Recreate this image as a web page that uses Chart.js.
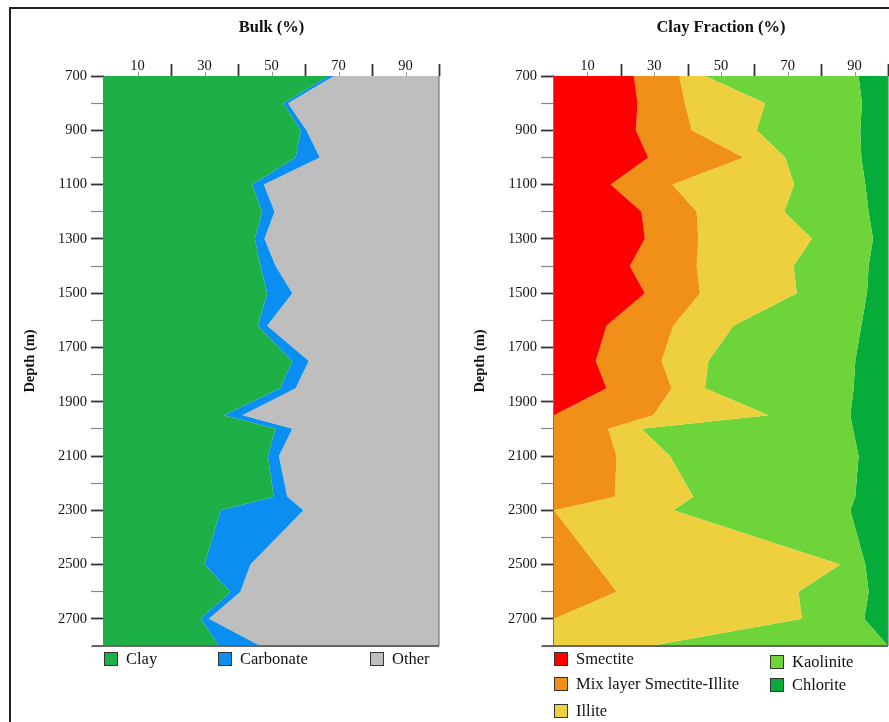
<!DOCTYPE html>
<html>
<head>
<meta charset="utf-8">
<script src="https://cdn.jsdelivr.net/npm/chart.js@4/dist/chart.umd.min.js"></script>
<style>
  body { margin: 0; background: #fff; font-family: "Liberation Serif", "Times New Roman", serif; }
  #wrap { position: relative; width: 889px; height: 722px; overflow: hidden; background: #fff; }
  #frame { position: absolute; left: 9px; top: 7px; width: 900px; height: 740px; border-left: 2px solid #222; border-top: 2px solid #222; }
  canvas { position: absolute; top: 0; }
  #bulk { left: 0; }
  #clayfrac { left: 450px; }
  .item { position: absolute; white-space: nowrap; font-size: 16.5px; line-height: 16px; color: #111; }
  .box { position: absolute; left: 0; top: 0; width: 12px; height: 12px; border: 1.5px solid #333; }
  .item span.t { position: absolute; left: 22px; top: -1px; }
</style>
</head>
<body>
<div id="wrap">
  <div id="frame"></div>
  <canvas id="bulk" width="445" height="660"></canvas>
  <canvas id="clayfrac" width="439" height="660"></canvas>
  <div id="legends"></div>
</div>
<script>
'use strict';

// sample depths (m), shared by both panels
const depths = [700, 800, 900, 1000, 1100, 1200, 1300, 1400, 1500, 1620, 1750,
  1850, 1950, 2000, 2100, 2250, 2300, 2500, 2600, 2700, 2800];

// Bulk (%)
const bulkNames = ['Clay', 'Carbonate', 'Other'];
const clay = [67, 53.5, 58.7, 57.2, 44.2, 47.2, 45, 46.7, 48.7, 45.9, 56.2,
  52.5, 35.8, 51.2, 48.9, 50.7, 34.8, 30, 37.8, 28.8, 34.3];
const carbonate = [1.6, 1.4, 1.7, 7.2, 3.5, 3.7, 2.9, 4.5, 7.5, 2.8, 4.9,
  4.7, 5.5, 5, 3.3, 4, 24.7, 13.7, 2.9, 2.5, 12.4];
const other = [31.4, 45.1, 39.6, 35.6, 52.3, 49.1, 52.1, 48.8, 43.8, 51.3, 38.9,
  42.8, 58.7, 43.8, 47.8, 45.3, 40.5, 56.3, 59.3, 68.7, 53.3];

// Clay Fraction (%)
const clayNames = ['Smectite', 'Mix layer Smectite-Illite', 'Illite', 'Kaolinite', 'Chlorite'];
const smectite = [23.9, 25, 24.5, 28.2, 17, 26.2, 27.2, 22.7, 27.2, 15.7, 12.5,
  15.7, 0, 0, 0, 0, 0, 0, 0, 0, 0];
const mixLayer = [13.6, 14.2, 16.7, 28.5, 18.4, 16.5, 16, 20, 16.5, 20, 19.7,
  19.5, 29.7, 16.2, 18.7, 18.2, 0, 12.5, 18.7, 0, 0];
const illite = [7.7, 24, 19.5, 12.5, 36.5, 26.2, 34, 29, 29, 18, 14,
  10, 34.5, 10, 16, 23.5, 35.7, 73.2, 54.5, 74.2, 28.7];
const kaolinite = [46, 29, 31, 22.8, 21.3, 25.3, 18.3, 22.5, 21, 38.3, 44,
  44.5, 24.5, 63.3, 56.5, 48.5, 53, 7.5, 21, 18.7, 71.3];
const chlorite = [8.8, 7.8, 8.3, 8, 6.8, 5.8, 4.5, 5.8, 6.3, 8, 9.8,
  10.3, 11.3, 10.5, 8.8, 9.8, 11.3, 6.8, 5.8, 7.1, 0];

const depthTicks = [700, 900, 1100, 1300, 1500, 1700, 1900, 2100, 2300, 2500, 2700];
const pctTicks = [10, 30, 50, 70, 90];

const bulkColors = ['#1db046', '#0b8ef2', '#bebebe'];
const clayColors = ['#fe0000', '#f09018', '#eecf3e', '#6dd43a', '#05ac3a'];

Chart.defaults.font.family = '"Liberation Serif", "Times New Roman", serif';
Chart.defaults.color = '#111';

// plot frame + top ticks of the percent axis
const framePlugin = {
  id: 'frame',
  afterDraw(chart) {
    const ctx = chart.ctx;
    const a = chart.chartArea;
    const xs = chart.scales.x;
    ctx.save();
    ctx.lineWidth = 1.2;
    ctx.strokeStyle = '#777';
    ctx.beginPath();
    ctx.moveTo(a.right, a.top);
    ctx.lineTo(a.right, a.bottom);
    ctx.stroke();
    ctx.lineWidth = 2;
    ctx.strokeStyle = '#666';
    ctx.beginPath();
    ctx.moveTo(a.left - 12, a.bottom);
    ctx.lineTo(a.right, a.bottom);
    ctx.stroke();
    for (let v = 10; v <= 100; v += 10) {
      const px = Math.round(xs.getPixelForValue(v)) + 0.5;
      const major = v % 20 === 0;
      ctx.strokeStyle = major ? '#333' : '#999';
      ctx.lineWidth = major ? 1.8 : 1;
      ctx.beginPath();
      ctx.moveTo(px, a.top);
      ctx.lineTo(px, a.top - (major ? 12 : 4));
      ctx.stroke();
    }
    ctx.restore();
  }
};

function makeChart(id, title, names, series, colors, rightPad) {
  const datasets = [];
  for (let k = 0; k < series.length; k++) {
    datasets.push({
      label: names[k],
      data: depths.map((d, i) => ({ x: series[k][i], y: d })),
      backgroundColor: colors[k],
      borderWidth: 0,
      pointRadius: 0,
      tension: 0,
      fill: k === 0 ? 'origin' : '-1'
    });
  }
  return new Chart(document.getElementById(id), {
    type: 'line',
    data: { datasets: datasets },
    options: {
      indexAxis: 'y',
      responsive: false,
      animation: false,
      layout: { padding: { left: 0, right: rightPad, top: 0, bottom: 14 } },
      plugins: { legend: { display: false }, tooltip: { enabled: false } },
      scales: {
        x: {
          type: 'linear',
          position: 'top',
          stacked: true,
          min: 0,
          max: 100,
          afterFit(s) { s.height = 76; },
          title: {
            display: true,
            text: title,
            font: { size: 16.5, weight: 'bold' },
            padding: { top: 18, bottom: 0 }
          },
          border: { display: true, color: '#ccc', width: 1 },
          grid: { display: true, drawOnChartArea: false, drawTicks: false },
          ticks: {
            stepSize: 10,
            autoSkip: false,
            maxRotation: 0,
            padding: 1,
            font: { size: 14.5 },
            callback: v => pctTicks.includes(v) ? String(v) : ''
          }
        },
        y: {
          type: 'linear',
          reverse: true,
          min: 700,
          max: 2800,
          afterFit(s) { s.width = 104; },
          title: {
            display: true,
            text: 'Depth (m)',
            font: { size: 14.5, weight: 'bold' },
            padding: { top: 22, bottom: 0 }
          },
          border: { display: true, color: '#777', width: 1.2 },
          grid: {
            drawOnChartArea: false,
            drawTicks: true,
            tickLength: 13,
            tickColor: c => depthTicks.includes(c.tick.value) ? '#333' : '#888',
            tickWidth: c => depthTicks.includes(c.tick.value) ? 1.8 : 1.2
          },
          ticks: {
            stepSize: 100,
            autoSkip: false,
            padding: 4,
            font: { size: 14.5 },
            callback: v => depthTicks.includes(v) ? String(v) : ''
          }
        }
      }
    },
    plugins: [framePlugin]
  });
}

makeChart('bulk', 'Bulk (%)', bulkNames, [clay, carbonate, other], bulkColors, 6);
makeChart('clayfrac', 'Clay Fraction (%)', clayNames,
  [smectite, mixLayer, illite, kaolinite, chlorite], clayColors, 1);

// legends (positions in page px)
const bulkLegendPos = [[104, 652], [218, 652], [370, 652]];
const clayLegendPos = [[554, 652], [554, 677], [554, 704], [770, 655], [770, 678]];

function addLegend(names, colors, pos) {
  const holder = document.getElementById('legends');
  names.forEach((n, i) => {
    const el = document.createElement('div');
    el.className = 'item';
    el.style.left = pos[i][0] + 'px';
    el.style.top = pos[i][1] + 'px';
    const box = document.createElement('div');
    box.className = 'box';
    box.style.background = colors[i];
    const t = document.createElement('span');
    t.className = 't';
    t.textContent = n;
    el.appendChild(box);
    el.appendChild(t);
    holder.appendChild(el);
  });
}
addLegend(bulkNames, bulkColors, bulkLegendPos);
addLegend(clayNames, clayColors, clayLegendPos);
</script>
</body>
</html>
